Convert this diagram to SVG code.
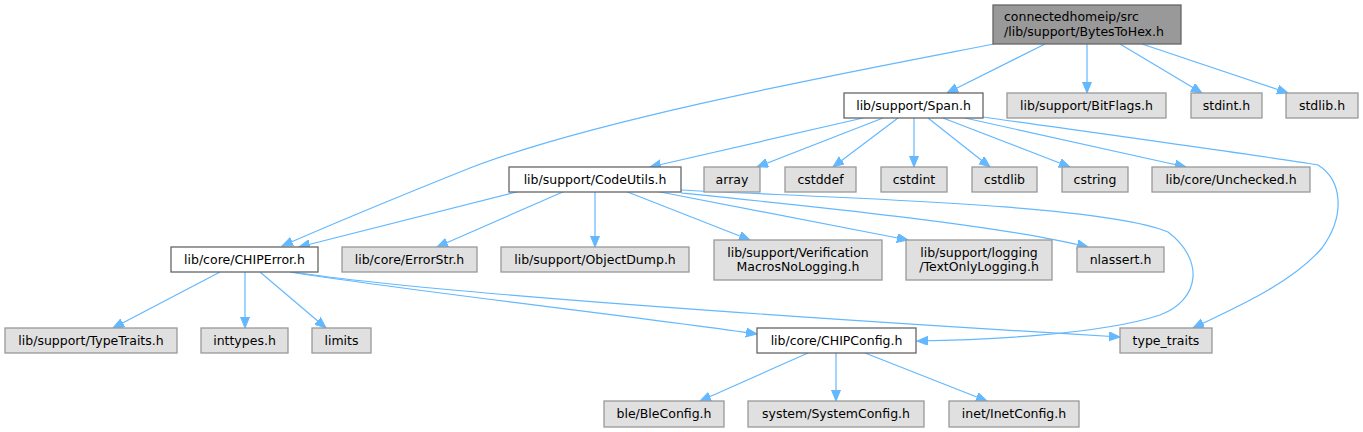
<svg xmlns="http://www.w3.org/2000/svg" width="1363" height="432" viewBox="0 0 1363 432">
<style>
text{font-family:"DejaVu Sans",sans-serif;font-size:12.5px;fill:#000}
.c text{text-anchor:middle}
.w rect{fill:#fff;stroke:#666;stroke-width:1.3}
.g rect{fill:#e0e0e0;stroke:#999;stroke-width:1.3}
.r rect{fill:#999;stroke:#666;stroke-width:1.3}
#edges path{fill:none;stroke:#63b8ff;stroke-width:1.2;marker-end:url(#ah)}
</style>
<defs>
<marker id="ah" markerUnits="userSpaceOnUse" markerWidth="12" markerHeight="10" refX="11" refY="4.5" orient="auto">
<path d="M0,0 L11,4.5 L0,9 z" fill="#63b8ff" stroke="#63b8ff" stroke-width="1"/>
</marker>
</defs>
<rect width="1363" height="432" fill="#fff"/>
<g id="edges">
<path d="M994,44 C 850,72 600,118 470,168 C 390,200 330,225 282,246"/>
<path d="M1045,44 L947,93"/>
<path d="M1087,44 L1087,93"/>
<path d="M1120,44 L1202,93"/>
<path d="M1142,44 L1288,93"/>
<path d="M863,118 L650,167"/>
<path d="M883,118 L757,167"/>
<path d="M898,118 L833,167"/>
<path d="M914,118 L914,167"/>
<path d="M928,118 L990,167"/>
<path d="M943,118 L1070,167"/>
<path d="M965,118 L1186,167"/>
<path d="M983,117 C 1060,128 1250,154 1318,165 C 1342,180 1346,215 1322,248 C 1290,285 1230,310 1193,328"/>
<path d="M520,191 L299,247"/>
<path d="M565,191 L437,247"/>
<path d="M595,191 L595,247"/>
<path d="M625,191 L750,240"/>
<path d="M655,191 L908,240"/>
<path d="M681,193 C 800,205 1000,225 1088,247"/>
<path d="M681,190 C 800,197 1100,203 1168,232 C 1205,260 1200,300 1160,315 C 1100,335 980,340 917,341"/>
<path d="M220,272 L113,328"/>
<path d="M245,272 L245,328"/>
<path d="M260,272 L326,328"/>
<path d="M290,272 C 400,290 650,318 757,334"/>
<path d="M293,272 C 420,292 800,318 1120,337"/>
<path d="M808,353 L700,401"/>
<path d="M836,353 L836,401"/>
<path d="M865,353 L987,401"/>
</g>
<g id="n_root" class="r"><rect x="993" y="5" width="188" height="39"/><text x="1004" y="21">connectedhomeip/src</text><text x="1004" y="36">/lib/support/BytesToHex.h</text></g>
<g id="n_span" class="w c"><rect x="844" y="93" width="139" height="25"/><text x="913.5" y="110">lib/support/Span.h</text></g>
<g id="n_bitflags" class="g c"><rect x="1007" y="93" width="159" height="25"/><text x="1086.5" y="110">lib/support/BitFlags.h</text></g>
<g id="n_stdint_h" class="g c"><rect x="1191" y="93" width="71" height="25"/><text x="1226.5" y="110">stdint.h</text></g>
<g id="n_stdlib_h" class="g c"><rect x="1286" y="93" width="72" height="25"/><text x="1322" y="110">stdlib.h</text></g>
<g id="n_codeutils" class="w c"><rect x="509" y="167" width="172" height="25"/><text x="595" y="184">lib/support/CodeUtils.h</text></g>
<g id="n_array" class="g c"><rect x="704" y="167" width="56" height="25"/><text x="732" y="184">array</text></g>
<g id="n_cstddef" class="g c"><rect x="785" y="167" width="71" height="25"/><text x="820.5" y="184">cstddef</text></g>
<g id="n_cstdint" class="g c"><rect x="881" y="167" width="66" height="25"/><text x="914" y="184">cstdint</text></g>
<g id="n_cstdlib" class="g c"><rect x="972" y="167" width="65" height="25"/><text x="1004.5" y="184">cstdlib</text></g>
<g id="n_cstring" class="g c"><rect x="1062" y="167" width="66" height="25"/><text x="1095" y="184">cstring</text></g>
<g id="n_unchecked" class="g c"><rect x="1152" y="167" width="158" height="25"/><text x="1231" y="184">lib/core/Unchecked.h</text></g>
<g id="n_chiperror" class="w c"><rect x="171" y="247" width="147" height="25"/><text x="244.5" y="264">lib/core/CHIPError.h</text></g>
<g id="n_errorstr" class="g c"><rect x="342" y="247" width="135" height="25"/><text x="409.5" y="264">lib/core/ErrorStr.h</text></g>
<g id="n_objectdump" class="g c"><rect x="501" y="247" width="188" height="25"/><text x="595" y="264">lib/support/ObjectDump.h</text></g>
<g id="n_verification" class="g c"><rect x="714" y="240" width="168" height="40"/><text x="798" y="257">lib/support/Verification</text><text x="798" y="271">MacrosNoLogging.h</text></g>
<g id="n_textonly" class="g c"><rect x="906" y="240" width="146" height="40"/><text x="979" y="257">lib/support/logging</text><text x="979" y="271">/TextOnlyLogging.h</text></g>
<g id="n_nlassert" class="g c"><rect x="1077" y="247" width="87" height="25"/><text x="1120.5" y="264">nlassert.h</text></g>
<g id="n_typetraits_h" class="g c"><rect x="5" y="328" width="172" height="25"/><text x="91" y="345">lib/support/TypeTraits.h</text></g>
<g id="n_inttypes" class="g c"><rect x="201" y="328" width="87" height="25"/><text x="244.5" y="345">inttypes.h</text></g>
<g id="n_limits" class="g c"><rect x="312" y="328" width="59" height="25"/><text x="341.5" y="345">limits</text></g>
<g id="n_chipconfig" class="w c"><rect x="757" y="328" width="159" height="25"/><text x="836.5" y="345">lib/core/CHIPConfig.h</text></g>
<g id="n_type_traits" class="g c"><rect x="1120" y="328" width="92" height="25"/><text x="1166" y="345">type_traits</text></g>
<g id="n_bleconfig" class="g c"><rect x="604" y="401" width="120" height="26"/><text x="664" y="418">ble/BleConfig.h</text></g>
<g id="n_systemconfig" class="g c"><rect x="748" y="401" width="176" height="26"/><text x="836" y="418">system/SystemConfig.h</text></g>
<g id="n_inetconfig" class="g c"><rect x="949" y="401" width="130" height="26"/><text x="1014" y="418">inet/InetConfig.h</text></g>
</svg>
